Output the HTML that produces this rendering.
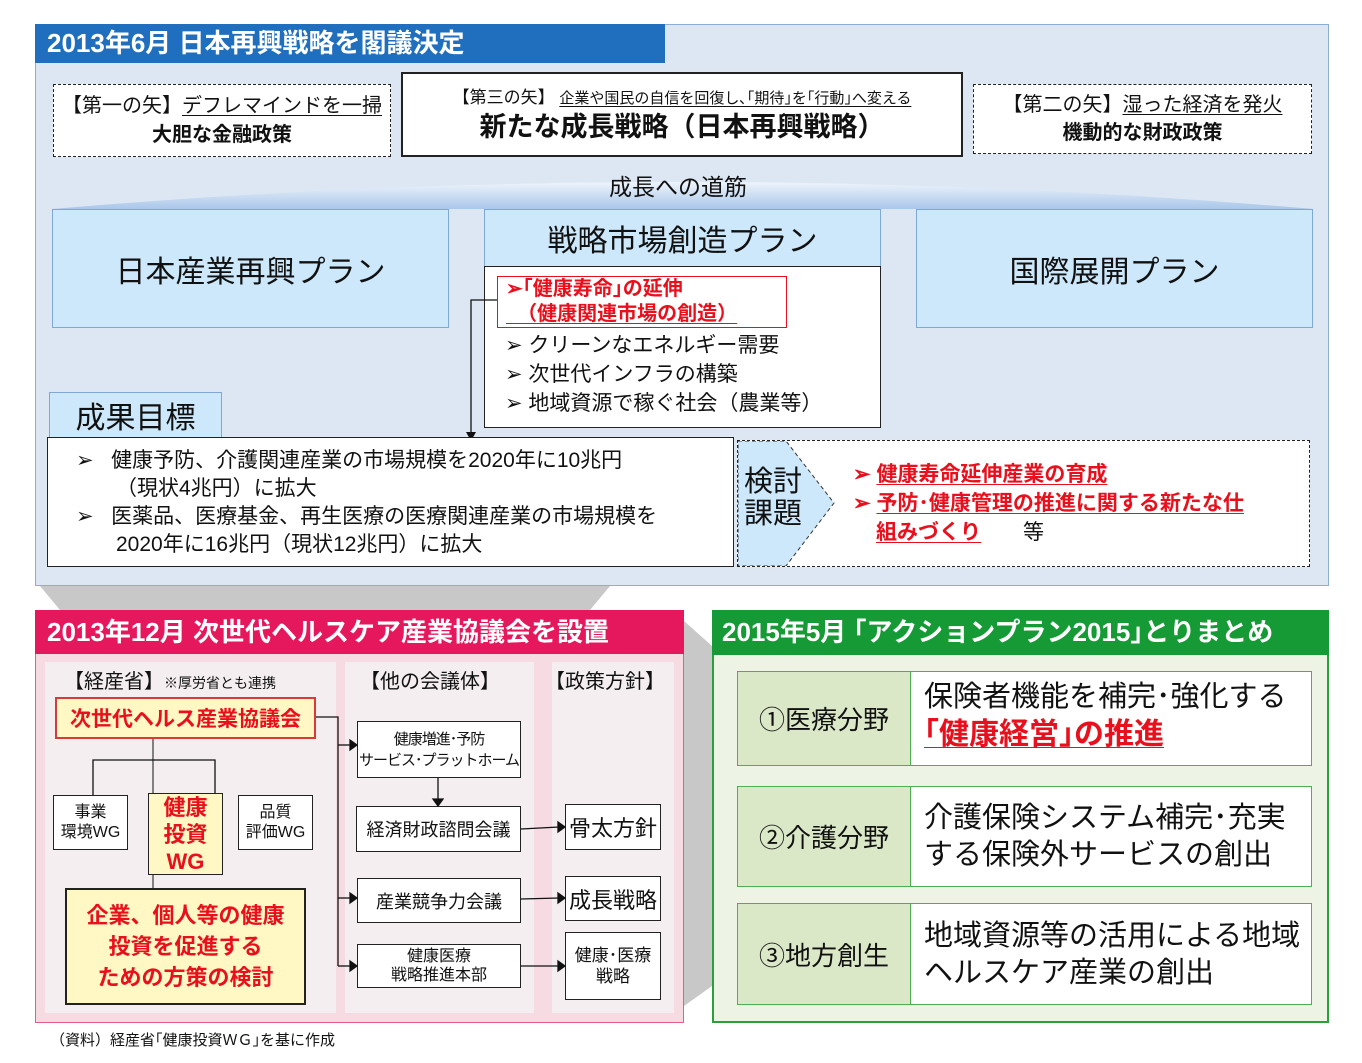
<!DOCTYPE html>
<html><head><meta charset="utf-8"><style>
*{box-sizing:border-box;margin:0;padding:0}
body{width:1362px;height:1063px;background:#fff;position:relative;overflow:hidden;font-family:"Liberation Sans","Noto Sans CJK JP",sans-serif;color:#111}
.a{position:absolute}
.c{display:flex;align-items:center;justify-content:center;text-align:center}
.b{font-weight:bold}
.red{color:#e8101c}
u{text-decoration-thickness:1px;text-underline-offset:3px}
</style></head><body>

<!-- TOP PANEL -->
<div class="a" style="left:35px;top:24px;width:1294px;height:562px;background:#dde7f3;border:1.5px solid #8eaed6"></div>
<div class="a" style="left:35px;top:24px;width:630px;height:39px;background:#1f6fbe;color:#fff;font-size:26px;font-weight:bold;line-height:39px;padding-left:12px">2013年6月 日本再興戦略を閣議決定</div>
<div class="a c" style="left:53px;top:84px;width:338px;height:73px;background:#fff;border:1.5px dashed #222;flex-direction:column;font-size:20px;line-height:29px">
<div>【第一の矢】<u>デフレマインドを一掃</u></div><div class="b">大胆な金融政策</div></div>
<div class="a c" style="left:401px;top:72px;width:562px;height:85px;background:#fff;border:2px solid #222;flex-direction:column">
<div style="font-size:17px">【第三の矢】 <u style="font-size:15px">企業や国民の自信を回復し､｢期待｣を｢行動｣へ変える</u></div>
<div class="b" style="font-size:27px;line-height:38px">新たな成長戦略（日本再興戦略）</div></div>
<div class="a c" style="left:973px;top:84px;width:339px;height:70px;background:#fff;border:1.5px dashed #222;flex-direction:column;font-size:20px;line-height:28px">
<div>【第二の矢】<u>湿った経済を発火</u></div><div class="b">機動的な財政政策</div></div>
<svg class="a" style="left:52px;top:165px" width="1262" height="44"><defs><linearGradient id="g" x1="0" y1="0" x2="0" y2="1"><stop offset="0" stop-color="#eef4fb"/><stop offset="1" stop-color="#a9c7ea"/></linearGradient></defs><path d="M0 44 Q631 -10 1262 44 Z" fill="url(#g)"/></svg>
<div class="a c" style="left:500px;top:170px;width:356px;height:30px;font-size:23px">成長への道筋</div>

<div class="a c" style="left:52px;top:209px;width:397px;height:119px;background:#cde8fb;border:1.5px solid #7ea9d5;font-size:30px">日本産業再興プラン</div>
<div class="a c" style="left:484px;top:209px;width:397px;height:58px;background:#cde8fb;border:1.5px solid #7ea9d5;font-size:30px">戦略市場創造プラン</div>
<div class="a" style="left:484px;top:266px;width:397px;height:162px;background:#fff;border:1.5px solid #222"></div>
<div class="a" style="left:497px;top:276px;width:290px;height:52px;border:1.5px solid #e8101c;color:#e8101c;font-weight:bold;font-size:20px;line-height:25px;padding-left:8px">➢｢健康寿命｣の延伸<br><u>&nbsp;&nbsp;（健康関連市場の創造）</u></div>
<div class="a" style="left:505px;top:331px;font-size:21px;line-height:29px">➢ クリーンなエネルギー需要<br>➢ 次世代インフラの構築<br>➢ 地域資源で稼ぐ社会（農業等）</div>
<div class="a c" style="left:916px;top:209px;width:397px;height:119px;background:#cde8fb;border:1.5px solid #7ea9d5;font-size:30px">国際展開プラン</div>

<svg class="a" style="left:0;top:0" width="1362" height="1063">
<polyline points="497,300 471,300 471,435" fill="none" stroke="#111" stroke-width="1.3"/>
<polygon points="466,432 476,432 471,441" fill="#111"/>
</svg>

<div class="a c" style="left:49px;top:392px;width:173px;height:46px;background:#cde8fb;border:1.5px solid #7ea9d5;font-size:30px">成果目標</div>
<div class="a" style="left:47px;top:437px;width:687px;height:130px;background:#fff;border:1.5px solid #222;font-size:21px;line-height:28px;padding:9px 0 0 28px">
<div>➢&nbsp;&nbsp;&nbsp;健康予防、介護関連産業の市場規模を2020年に10兆円</div>
<div style="padding-left:40px">（現状4兆円）に拡大</div>
<div>➢&nbsp;&nbsp;&nbsp;医薬品、医療基金、再生医療の医療関連産業の市場規模を</div>
<div style="padding-left:40px">2020年に16兆円（現状12兆円）に拡大</div></div>
<div class="a" style="left:737px;top:440px;width:573px;height:127px;background:#fff;border:1.5px dashed #222"></div>
<svg class="a" style="left:738px;top:441px" width="100" height="125"><polygon points="0,0 48,0 96,62 48,125 0,125" fill="#cde8fb" stroke="#333" stroke-dasharray="4,3"/></svg>
<div class="a" style="left:744px;top:466px;font-size:29px;line-height:32px">検討<br>課題</div>
<div class="a red b" style="left:853px;top:460px;font-size:21px;line-height:29px">
<div>➢ <u>健康寿命延伸産業の育成</u></div>
<div>➢ <u>予防･健康管理の推進に関する新たな仕</u></div>
<div style="padding-left:23px"><u>組みづくり</u><span style="color:#111;font-weight:normal">　　等</span></div></div>

<!-- gray arrows -->
<svg class="a" style="left:0;top:586px" width="1362" height="430">
<polygon points="40,0 610,0 590,24 60,24" fill="#c8c8c8"/>
<polygon points="684,35 712,60 712,400 684,420" fill="#c8c8c8"/>
</svg>

<!-- BOTTOM LEFT -->
<div class="a" style="left:35px;top:610px;width:649px;height:413px;background:#f6dbe3;border:1.5px solid #e85c8a"></div>
<div class="a" style="left:35px;top:610px;width:649px;height:44px;background:#e5185e;color:#fff;font-size:26px;font-weight:bold;line-height:44px;padding-left:12px">2013年12月 次世代ヘルスケア産業協議会を設置</div>
<div class="a" style="left:45px;top:662px;width:291px;height:351px;background:#f4eef0"></div>
<div class="a" style="left:345px;top:662px;width:189px;height:351px;background:#f4eef0"></div>
<div class="a" style="left:552px;top:662px;width:122px;height:351px;background:#f4eef0"></div>
<div class="a" style="left:64px;top:665px;font-size:20px">【経産省】<span style="font-size:14px">※厚労省とも連携</span></div>
<div class="a" style="left:360px;top:665px;font-size:20px">【他の会議体】</div>
<div class="a" style="left:545px;top:665px;font-size:20px">【政策方針】</div>

<svg class="a" style="left:0;top:0" width="1362" height="1063" fill="none" stroke="#111" stroke-width="1.3">
<line x1="153" y1="739" x2="153" y2="888" stroke-width="1"/>
<polyline points="93,795 93,760 215,760 215,795"/>
</svg>

<div class="a c red b" style="left:55px;top:697px;width:261px;height:42px;background:#fff8c4;border:2px solid #d83a3a;font-size:21px">次世代ヘルス産業協議会</div>
<div class="a c" style="left:53px;top:795px;width:75px;height:55px;background:#fff;border:1.5px solid #222;font-size:16px;line-height:20px">事業<br>環境WG</div>
<div class="a c red b" style="left:148px;top:793px;width:75px;height:82px;background:#fff8c4;border:1.5px solid #222;font-size:22px;line-height:27px">健康<br>投資<br>WG</div>
<div class="a c" style="left:238px;top:795px;width:75px;height:55px;background:#fff;border:1.5px solid #222;font-size:16px;line-height:20px">品質<br>評価WG</div>
<div class="a c red b" style="left:65px;top:888px;width:241px;height:117px;background:#fff8c4;border:2px solid #222;font-size:22px;line-height:31px">企業、個人等の健康<br>投資を促進する<br>ための方策の検討</div>

<div class="a c" style="left:357px;top:721px;width:164px;height:57px;background:#fff;border:1.5px solid #222;font-size:15px;line-height:21px;letter-spacing:-1px;white-space:nowrap">健康増進･予防<br>サービス･プラットホーム</div>
<div class="a c" style="left:356px;top:806px;width:165px;height:46px;background:#fff;border:1.5px solid #222;font-size:18px">経済財政諮問会議</div>
<div class="a c" style="left:357px;top:878px;width:164px;height:45px;background:#fff;border:1.5px solid #222;font-size:18px">産業競争力会議</div>
<div class="a c" style="left:357px;top:944px;width:164px;height:44px;background:#fff;border:1.5px solid #222;font-size:16px;line-height:19px">健康医療<br>戦略推進本部</div>
<div class="a c" style="left:565px;top:804px;width:96px;height:46px;background:#fff;border:1.5px solid #222;font-size:22px">骨太方針</div>
<div class="a c" style="left:565px;top:876px;width:96px;height:45px;background:#fff;border:1.5px solid #222;font-size:22px">成長戦略</div>
<div class="a c" style="left:565px;top:932px;width:96px;height:68px;background:#fff;border:1.5px solid #222;font-size:17px;line-height:21px">健康･医療<br>戦略</div>

<svg class="a" style="left:0;top:0" width="1362" height="1063" fill="none" stroke="#111" stroke-width="1.3">
<polyline points="316,717 338,717 338,966"/>
<line x1="338" y1="745" x2="351" y2="745"/><polygon points="350,740 357,745 350,750" fill="#111"/>
<line x1="338" y1="898" x2="351" y2="898"/><polygon points="350,893 357,898 350,903" fill="#111"/>
<line x1="338" y1="966" x2="351" y2="966"/><polygon points="350,961 357,966 350,971" fill="#111"/>
<line x1="438" y1="778" x2="438" y2="800"/><polygon points="433,799 443,799 438,806" fill="#111"/>
<line x1="521" y1="829" x2="559" y2="827"/><polygon points="558,822 565,827 558,832" fill="#111"/>
<line x1="521" y1="899" x2="559" y2="898"/><polygon points="558,893 565,898 558,903" fill="#111"/>
<line x1="521" y1="966" x2="559" y2="966"/><polygon points="558,961 565,966 558,971" fill="#111"/>
</svg>
<div class="a" style="left:50px;top:1029px;font-size:15px">（資料）経産省｢健康投資ＷＧ｣を基に作成</div>

<!-- BOTTOM RIGHT -->
<div class="a" style="left:712px;top:610px;width:617px;height:413px;background:#edf4e6;border:2px solid #2aa03a"></div>
<div class="a" style="left:712px;top:610px;width:617px;height:45px;background:#159a35;color:#fff;font-size:26px;font-weight:bold;line-height:45px;padding-left:10px">2015年5月 ｢アクションプラン2015｣とりまとめ</div>

<div class="a c" style="left:737px;top:671px;width:174px;height:95px;background:#dbe8c8;border:1.5px solid #4cb050;font-size:26px">①医療分野</div>
<div class="a" style="left:910px;top:671px;width:402px;height:95px;background:#fff;border:1.5px solid #4cb050;padding:6px 0 0 13px;font-size:29px;line-height:38px">保険者機能を補完･強化する<br><u class="red b" style="font-size:30px">｢健康経営｣の推進</u></div>
<div class="a c" style="left:737px;top:786px;width:174px;height:101px;background:#dbe8c8;border:1.5px solid #4cb050;font-size:26px">②介護分野</div>
<div class="a" style="left:910px;top:786px;width:402px;height:101px;background:#fff;border:1.5px solid #4cb050;padding:13px 0 0 13px;font-size:29px;line-height:37px">介護保険システム補完･充実<br>する保険外サービスの創出</div>
<div class="a c" style="left:737px;top:903px;width:174px;height:102px;background:#dbe8c8;border:1.5px solid #4cb050;font-size:26px">③地方創生</div>
<div class="a" style="left:910px;top:903px;width:402px;height:102px;background:#fff;border:1.5px solid #4cb050;padding:14px 0 0 13px;font-size:29px;line-height:37px">地域資源等の活用による地域<br>ヘルスケア産業の創出</div>
</body></html>
